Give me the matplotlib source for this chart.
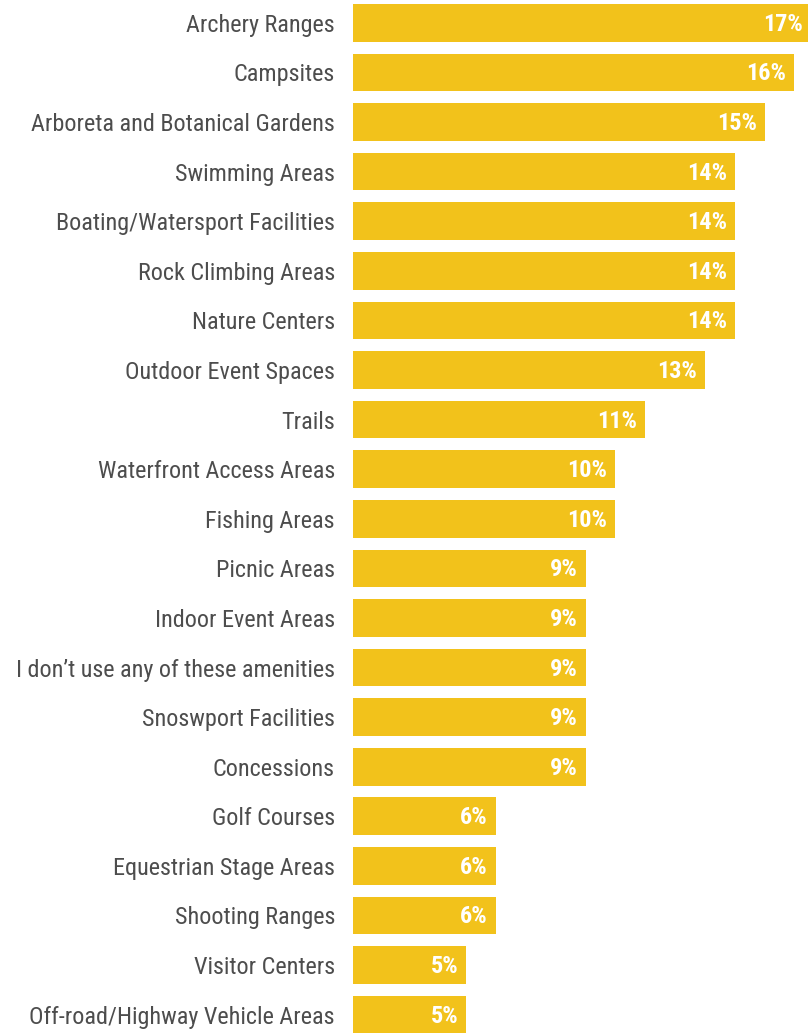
import matplotlib

matplotlib.use("Agg")
import matplotlib.pyplot as plt

categories = [
    "Archery Ranges",
    "Campsites",
    "Arboreta and Botanical Gardens",
    "Swimming Areas",
    "Boating/Watersport Facilities",
    "Rock Climbing Areas",
    "Nature Centers",
    "Outdoor Event Spaces",
    "Trails",
    "Waterfront Access Areas",
    "Fishing Areas",
    "Picnic Areas",
    "Indoor Event Areas",
    "I don\u2019t use any of these amenities",
    "Snoswport Facilities",
    "Concessions",
    "Golf Courses",
    "Equestrian Stage Areas",
    "Shooting Ranges",
    "Visitor Centers",
    "Off-road/Highway Vehicle Areas",
]
percent = [17, 16, 15, 14, 14, 14, 14, 13, 11, 10, 10, 9, 9, 9, 9, 9, 6, 6, 6, 5, 5]

BAR_COLOR = "#F2C21B"
LABEL_COLOR = "#4d4d4d"
FONT = ["Roboto Condensed", "Archivo Narrow", "Barlow Semi Condensed", "DejaVu Sans"]

fig = plt.figure(figsize=(8.08, 10.33), dpi=100)
ax = fig.add_axes([353 / 808, 0, 1 - 353 / 808, 1])

# bars are clipped on the left, the axis starts a bit above zero
px_per_pct = 29.85
x_min = 1.21
x_max = x_min + 455 / px_per_pct
y_pos = list(range(len(categories)))
ax.barh(y_pos, percent, height=0.76, color=BAR_COLOR)

for y, v in zip(y_pos, percent):
    if v > x_max:
        x_text = x_max - 5 / px_per_pct
    else:
        x_text = v - 8 / px_per_pct
    ax.text(x_text, y + 0.03, f"{v}%", ha="right", va="center", color="white",
            fontsize=17.5, fontweight="bold", family=FONT)

ax.set_xlim(x_min, x_max)
ax.set_ylim(20.37, -0.461)
ax.set_yticks(y_pos)
ax.set_yticklabels(categories, family=FONT, fontsize=17.4, color=LABEL_COLOR)
ax.tick_params(axis="y", length=0, pad=13)
ax.set_xticks([])
for spine in ax.spines.values():
    spine.set_visible(False)

fig.savefig("out.png", dpi=100)
plt.close(fig)
